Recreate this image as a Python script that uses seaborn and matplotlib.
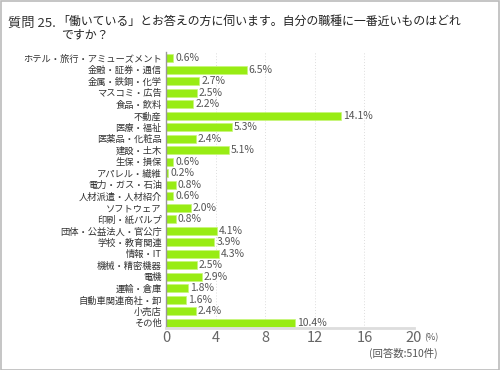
import pandas as pd
import matplotlib.pyplot as plt
import seaborn as sns
from matplotlib.patches import Rectangle

categories = ['ホテル・旅行・アミューズメント', '金融・証券・通信', '金属・鉄鋼・化学', 'マスコミ・広告',
              '食品・飲料', '不動産', '医療・福祉', '医薬品・化粧品', '建設・土木', '生保・損保',
              'アパレル・繊維', '電力・ガス・石油', '人材派遣・人材紹介', 'ソフトウェア', '印刷・紙パルプ',
              '団体・公益法人・官公庁', '学校・教育関連', '情報・IT', '機械・精密機器', '電機',
              '運輸・倉庫', '自動車関連商社・卸', '小売店', 'その他']
percent = [0.6, 6.5, 2.7, 2.5, 2.2, 14.1, 5.3, 2.4, 5.1, 0.6,
           0.2, 0.8, 0.6, 2.0, 0.8, 4.1, 3.9, 4.3, 2.5, 2.9,
           1.8, 1.6, 2.4, 10.4]
xticks = [0, 4, 8, 12, 16, 20]

sns.set_theme(style='white')
plt.rcParams['font.family'] = ['Noto Sans CJK JP', 'DejaVu Sans']

df = pd.DataFrame({'job': categories, 'pct': percent})

fig = plt.figure(figsize=(5, 3.7), dpi=100)
ax = fig.add_axes([0.332, 0.1135, 0.496, 0.746])

sns.barplot(x='pct', y='job', data=df, orient='h', color='#98ec14', saturation=1,
            width=0.7, edgecolor='#c8f57a', linewidth=0.5, ax=ax)

for i, v in enumerate(percent):
    ax.text(v + 0.15, i, f'{v}%', va='center', ha='left', fontsize=7.5, color='#555555')

ax.set_xlim(0, 20)
ax.set_ylim(23.45, -0.55)
ax.set_xticks(xticks)
ax.set_xticklabels([str(t) for t in xticks], fontsize=10.5, color='#666666')
ax.tick_params(axis='x', length=0, pad=2)
ax.tick_params(axis='y', length=0, pad=3, labelsize=6.7, labelcolor='#333333')
ax.set_xlabel('')
ax.set_ylabel('')
for t in xticks[1:]:
    ax.axvline(t, color='#dddddd', linestyle=(0, (1, 2)), linewidth=0.7, zorder=0)
for s in ['top', 'right']:
    ax.spines[s].set_visible(False)
ax.spines['bottom'].set_color('#dddddd')
ax.spines['bottom'].set_linewidth(2)
ax.spines['left'].set_color('#999999')
ax.spines['left'].set_linewidth(1)

fig.text(0.848, 0.0865, '(%)', fontsize=6.5, color='#555555', ha='left', va='center')
fig.text(0.876, 0.045, '(回答数:510件)', fontsize=7.5, color='#555555', ha='right', va='center')

fig.text(0.016, 0.938, '質問 25.', fontsize=9.5, color='#333333', ha='left', va='center')
fig.text(0.114, 0.942, '「働いている」とお答えの方に伺います。自分の職種に一番近いものはどれ',
         fontsize=8.6, color='#222222', ha='left', va='center')
fig.text(0.122, 0.905, 'ですか？', fontsize=8.6, color='#222222', ha='left', va='center')

fig.patches.append(Rectangle((0.001, 0.001), 0.997, 0.996, transform=fig.transFigure,
                             fill=False, edgecolor='#bbbbbb', linewidth=1.2))

fig.savefig('out.png', dpi=100)
